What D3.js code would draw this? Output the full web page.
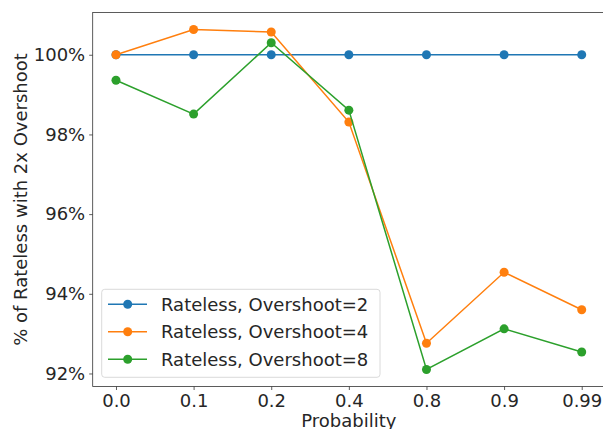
<!DOCTYPE html>
<html><head><meta charset="utf-8">
<script src="https://cdn.jsdelivr.net/npm/d3@7"></script>
<style>body{margin:0;background:#fff}svg{display:block}</style>
</head><body>
<svg id="c" width="603" height="429"></svg>
<script>
const categories = ["0.0","0.1","0.2","0.4","0.8","0.9","0.99"];
const overshoot2 = [100,100,100,100,100,100,100];
const overshoot4 = [100,100.634,100.57,98.31,92.76,94.54,93.60];
const overshoot8 = [99.36,98.51,100.30,98.61,92.10,93.12,92.54];
const yTicks = [92,94,96,98,100];
const seriesNames = ["Rateless, Overshoot=2","Rateless, Overshoot=4","Rateless, Overshoot=8"];
const colors = ["#1f77b4","#ff7f0e","#2ca02c"];

const FONT = "DejaVu Sans";
const series = [overshoot2, overshoot4, overshoot8];
const svg = d3.select("#c");
const L = 92.7, R = 605, T = 12.5, B = 386.5;

const x = d3.scaleLinear().domain([-0.3, categories.length - 1 + 0.3]).range([L, R]);
const all = series.flat();
const mn = d3.min(all), mx = d3.max(all), pad = (mx - mn) * 0.05;
const y = d3.scaleLinear().domain([mn - pad, mx + pad]).range([B, T]);

const xAxis = d3.axisBottom(x).tickValues(d3.range(categories.length)).tickFormat(i => categories[i]).tickSize(3.5).tickPadding(4);
const yAxis = d3.axisLeft(y).tickValues(yTicks).tickFormat(d => d + "%").tickSize(3.5).tickPadding(4);

const gx = svg.append("g").attr("transform", `translate(0,${B})`).call(xAxis);
const gy = svg.append("g").attr("transform", `translate(${L},0)`).call(yAxis);
[gx, gy].forEach(g => {
  g.attr("font-family", null).attr("font-size", null);
  g.select(".domain").remove();
  g.selectAll("text").style("font-size", "18px").style("font-family", FONT).attr("fill", "#262626");
  g.selectAll("line").attr("stroke", "#333").attr("stroke-width", 0.8);
});

svg.append("rect").attr("x", L).attr("y", T).attr("width", R - L).attr("height", B - T)
  .attr("fill", "none").attr("stroke", "#333").attr("stroke-width", 0.8);

const line = d3.line().x((d, i) => x(i)).y(d => y(d));
series.forEach((s, k) => {
  svg.append("path").datum(s).attr("d", line).attr("fill", "none")
    .attr("stroke", colors[k]).attr("stroke-width", 1.5);
  svg.append("g").selectAll("circle").data(s).join("circle")
    .attr("cx", (d, i) => x(i)).attr("cy", d => y(d)).attr("r", 4.5).attr("fill", colors[k]);
});

function txt(sel) { return sel.style("font-family", FONT).style("font-size", "18px").attr("fill", "#262626"); }

txt(svg.append("text")).attr("x", (L + R) / 2).attr("y", 427).attr("text-anchor", "middle").text("Probability");
txt(svg.append("text")).attr("transform", `translate(27,${(T + B) / 2}) rotate(-90)`).attr("text-anchor", "middle")
  .text("% of Rateless with 2x Overshoot");

const lg = svg.append("g");
lg.append("rect").attr("x", 101.7).attr("y", 289.3).attr("width", 278.3).attr("height", 88)
  .attr("rx", 3).attr("fill", "#fff").attr("fill-opacity", 0.8).attr("stroke", "#d0d0d0").attr("stroke-width", 0.8);
seriesNames.forEach((n, k) => {
  const yy = 304.3 + k * 27.5;
  lg.append("line").attr("x1", 108).attr("x2", 147).attr("y1", yy).attr("y2", yy)
    .attr("stroke", colors[k]).attr("stroke-width", 1.5);
  lg.append("circle").attr("cx", 127.7).attr("cy", yy).attr("r", 4.5).attr("fill", colors[k]);
  txt(lg.append("text")).attr("x", 161).attr("y", yy + 6.5).text(n);
});
</script>
</body></html>
